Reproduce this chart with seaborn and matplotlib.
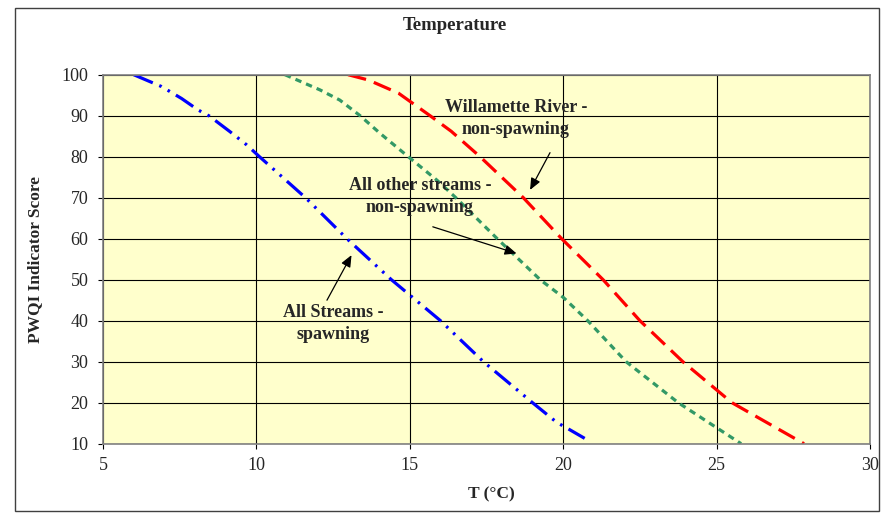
import seaborn as sns
import pandas as pd
import matplotlib.pyplot as plt
from matplotlib.patches import Rectangle

# Readings: temperature (deg C) vs PWQI score
spawn_t = [6.0, 6.91, 7.56, 8.1, 8.47, 9.14, 9.68, 10.1, 11.6, 12.95, 14.4, 16.0,
           17.4, 19.0, 19.79, 20.1, 20.7]
spawn_s = [100, 97.1, 94.2, 91.4, 89.9, 86.1, 82.9, 80, 70, 60, 50, 40,
           30, 20, 15.2, 13.9, 11.3]

other_t = [10.93, 12.07, 12.72, 13.38, 14.03, 14.95, 15.88, 16.5, 17.85, 19.25,
           20.0, 20.8, 22.05, 23.75, 25.8]
other_s = [100, 96.3, 93.8, 90, 85.7, 80, 74.3, 70, 60, 50,
           45.7, 40, 30, 20, 10]

will_t = [12.99, 13.65, 14.63, 15.66, 16.35, 17.29, 18.7, 19.95, 21.3, 22.5,
          23.9, 25.5, 27.85]
will_s = [100, 98.7, 95.5, 90, 86.2, 80, 70, 60, 50, 40,
          30, 20, 10]

x_ticks = [5, 10, 15, 20, 25, 30]
y_ticks = [10, 20, 30, 40, 50, 60, 70, 80, 90, 100]

sns.set_style("whitegrid", {"axes.facecolor": "#FFFFCC", "grid.color": "black",
                            "axes.edgecolor": "#808080"})
plt.rcParams['font.family'] = ['Liberation Serif', 'DejaVu Serif']

fig = plt.figure(figsize=(8.9, 5.14), dpi=100)
ax = fig.add_axes([103/890, 1-443.7/514, 767/890, 369/514])

spawn = pd.DataFrame({'T': spawn_t, 'Score': spawn_s})
other = pd.DataFrame({'T': other_t, 'Score': other_s})
will = pd.DataFrame({'T': will_t, 'Score': will_s})

sns.lineplot(data=spawn, x='T', y='Score', ax=ax, color='#0000FF', lw=2.3,
             sort=False).lines[-1].set_dashes([6.5, 2.2, 0.8, 2.2, 0.8, 2.2])
sns.lineplot(data=other, x='T', y='Score', ax=ax, color='#339966', lw=2.3,
             sort=False).lines[-1].set_dashes([2.0, 1.6])
sns.lineplot(data=will, x='T', y='Score', ax=ax, color='#FF0000', lw=2.3,
             sort=False).lines[-1].set_dashes([5.8, 2.6])

ax.set_xlim(5, 30)
ax.set_ylim(10, 100)
ax.set_xticks(x_ticks)
ax.set_yticks(y_ticks)
ax.grid(True, color='black', lw=0.8)
ax.tick_params(axis='both', labelsize=13, length=3.5, width=0.8, color='black',
               left=True, bottom=True)
ax.tick_params(axis='x', pad=6)
ax.tick_params(axis='y', pad=7)
for s in ax.spines.values():
    s.set_color('#808080')
    s.set_linewidth(1.2)

ax.set_xlabel('T (°C)', fontsize=12.5, fontweight='bold')
ax.set_ylabel('PWQI Indicator Score', fontsize=12.5, fontweight='bold')
ax.xaxis.set_label_coords(0.506, -0.115)
ax.yaxis.set_label_coords(-0.078, 0.5)

fig.text(455/890, 1-25/514, 'Temperature', ha='center', va='center',
         fontsize=13.5, fontweight='bold')

# labels and arrows
tkw = dict(ha='center', va='center', fontsize=13, fontweight='bold', linespacing=1.4)
ax.text(18.46, 89.3, 'Willamette River -\nnon-spawning', **tkw)
ax.text(15.33, 70.2, 'All other streams -\nnon-spawning', **tkw)
ax.text(12.5, 39.4, 'All Streams -\nspawning', **tkw)

akw = dict(arrowstyle='-|>,head_length=0.7,head_width=0.3', color='black', lw=0.9,
           shrinkA=0, shrinkB=0)
ax.annotate('', xy=(18.92, 71.9), xytext=(19.57, 80.98), arrowprops=akw)
ax.annotate('', xy=(18.48, 56.4), xytext=(15.75, 62.9), arrowprops=akw)
ax.annotate('', xy=(13.1, 56.0), xytext=(12.3, 45.0), arrowprops=akw)

# outer chart border
fig.patches.append(Rectangle((15/890, 1-511/514), 864/890, 503/514, transform=fig.transFigure,
                             fill=False, edgecolor='#404040', lw=1))

fig.savefig('out.png', dpi=100)
